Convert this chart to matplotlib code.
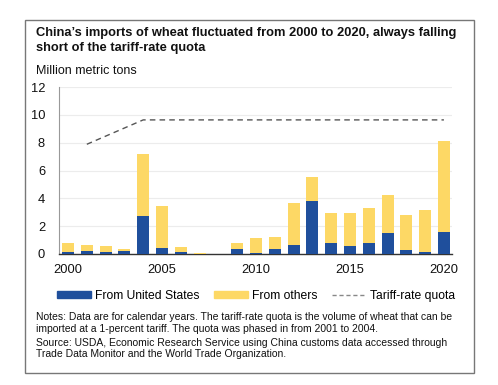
import matplotlib
matplotlib.use("Agg")
import matplotlib.pyplot as plt
from matplotlib.patches import Rectangle, Patch
from matplotlib.lines import Line2D

years = list(range(2000, 2021))
us = [0.12, 0.19, 0.12, 0.19, 2.76, 0.46, 0.14, 0.02, 0.0, 0.34, 0.08,
      0.36, 0.62, 3.79, 0.82, 0.55, 0.82, 1.51, 0.29, 0.17, 1.61]
total = [0.82, 0.67, 0.58, 0.38, 7.20, 3.48, 0.53, 0.07, 0.0, 0.82, 1.14,
         1.20, 3.65, 5.52, 2.93, 2.93, 3.34, 4.25, 2.83, 3.17, 8.14]
others = [t - u for t, u in zip(total, us)]
quota_years = list(range(2001, 2021))
quota = [7.884, 8.468, 9.052] + [9.636] * 17
yticks = [0, 2, 4, 6, 8, 10, 12]
xticks = [2000, 2005, 2010, 2015, 2020]

BLUE = "#1f4f9c"
YELLOW = "#fdd865"
FONT = "Liberation Sans"
plt.rcParams["font.family"] = [FONT, "DejaVu Sans"]

W, H = 498, 385
fig = plt.figure(figsize=(W / 100, H / 100), dpi=100)

def fx(px):
    return px / W

def fy(py):
    return 1 - py / H

ax = fig.add_axes([fx(59), fy(254), fx(452) - fx(59), fy(87) - fy(254)])
ax.bar(years, us, width=0.64, color=BLUE, zorder=3)
ax.bar(years, others, width=0.64, bottom=us, color=YELLOW, zorder=3)
ax.plot(quota_years, quota, color="#555555", lw=1.0, ls=(0, (4, 3)), zorder=4)

ax.set_xlim(1999.52, 2020.43)
ax.set_ylim(0, 12)
ax.set_yticks(yticks)
ax.set_xticks(xticks)
ax.tick_params(axis="both", length=0, labelsize=9.3, colors="#111111")
ax.tick_params(axis="y", pad=10)
ax.tick_params(axis="x", pad=7)
ax.grid(axis="y", color="#ececec", lw=0.8, zorder=0)
for s in ["top", "right"]:
    ax.spines[s].set_visible(False)
ax.spines["left"].set_color("#999999")
ax.spines["left"].set_linewidth(0.8)
ax.spines["bottom"].set_color("#333333")
ax.spines["bottom"].set_linewidth(1.0)

# frame
fig.patches.append(Rectangle((fx(25), fy(373)), fx(474) - fx(25), fy(20) - fy(373),
                             transform=fig.transFigure, fill=False,
                             edgecolor="#777777", lw=1.0))

fig.text(fx(36), fy(40.5), "China\u2019s imports of wheat fluctuated from 2000 to 2020, always falling\nshort of the tariff-rate quota",
         fontsize=9.25, fontweight="bold", va="center", ha="left", linespacing=1.32, color="#111111")
fig.text(fx(36), fy(71), "Million metric tons", fontsize=9.0, va="center", ha="left", color="#111111")

handles = [Patch(color=BLUE), Patch(color=YELLOW),
           Line2D([0], [0], color="#888888", lw=1.0, ls=(0, (3, 2)))]
labels = ["From United States", "From others", "Tariff-rate quota"]
fig.legend(handles, labels, loc="center", bbox_to_anchor=(fx(256), fy(296)), ncol=3,
           frameon=False, fontsize=8.7, handlelength=2.8, handleheight=0.5,
           columnspacing=1.2, handletextpad=0.35)

notes = ("Notes: Data are for calendar years. The tariff-rate quota is the volume of wheat that can be\n"
         "imported at a 1-percent tariff. The quota was phased in from 2001 to 2004.")
source = ("Source: USDA, Economic Research Service using China customs data accessed through\n"
          "Trade Data Monitor and the World Trade Organization.")
fig.text(fx(36), fy(323), notes, fontsize=7.5, va="center", ha="left", linespacing=1.2, color="#111111")
fig.text(fx(36), fy(348.5), source, fontsize=7.5, va="center", ha="left", linespacing=1.2, color="#111111")

fig.savefig("out.png", dpi=100, facecolor="white")
